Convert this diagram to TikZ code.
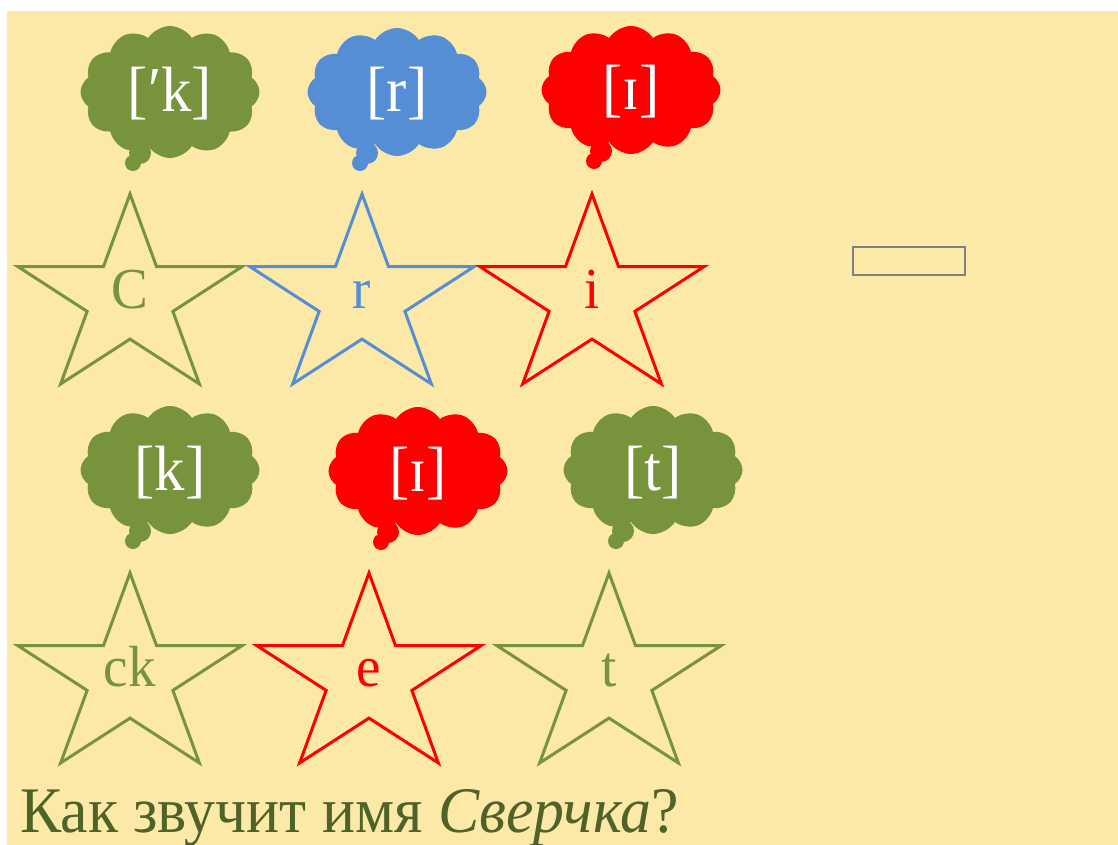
\documentclass[tikz,border=0pt]{standalone}
\usepackage{fontspec}
\setmainfont{Liberation Serif}
\newfontfamily\slidefont[FakeStretch=0.95]{Liberation Serif}
\usepackage{tikz}
\usetikzlibrary{shapes.symbols}
\definecolor{slidebg}{HTML}{FDE9A7}
\definecolor{mossgreen}{HTML}{77933C}
\definecolor{darkmoss}{HTML}{4F6228}
\definecolor{sky}{HTML}{558ED5}
\definecolor{scarlet}{HTML}{FF0000}
\definecolor{framegray}{HTML}{7F7F7F}

\begin{document}
\begin{tikzpicture}[x=1pt, y=-1pt,
    starline/.style={line width=3pt, line join=miter},
    startext/.style={font=\slidefont\fontsize{58}{62}\selectfont, anchor=base, inner sep=0pt},
    thought/.style={cloud, cloud puffs=12, cloud puff arc=115,
        minimum width=179pt, minimum height=128pt, fill=#1, draw=none, text=white,
        font=\slidefont\fontsize{64}{68}\selectfont, inner sep=0pt, text height=40pt, text depth=0pt}]
    \useasboundingbox (0,0) rectangle (1118,845);
    \fill[white] (0,0) rectangle (1118,845);
    \fill[slidebg] (7,11) rectangle (1118,845);
    % stars with letters
    \foreach \cx/\cy/\bl/\col/\txt/\nm in {130/299/308/mossgreen/C/c1, 362/299/308/sky/r/r1, 592/299/308/scarlet/i/i1,
        130/678/686/mossgreen/ck/ck2, 369/678/686/scarlet/e/e2, 609/678/686/mossgreen/t/t2} {
        \begin{scope}[shift={(\cx,\cy)}]
            \draw[starline, \col] (-90:118 and 105)
                \foreach \a/\f in {-54/0.382, -18/1, 18/0.382, 54/1, 90/0.382, 126/1, 162/0.382, 198/1, 234/0.382} {
                    -- (\a:{118*\f} and {105*\f})
                } -- cycle;
        \end{scope}
        \node[startext, text=\col] (\nm) at (\cx,\bl) {\txt};
    }
    % thought clouds with sounds, tail bubbles below left
    \foreach \cx/\cy/\col/\snd/\nm in {170/92/mossgreen/[′k]/kq, 397/92/sky/[r]/rq, 631/90/scarlet/[ɪ]/iq,
        170/470/mossgreen/[k]/ckq, 418/471/scarlet/[ɪ]/eq, 653/470/mossgreen/[t]/tq} {
        \fill[\col] (\cx-30,\cy+61) circle (11pt);
        \fill[\col] (\cx-37,\cy+71) circle (8pt);
        \node[thought=\col] (\nm) at (\cx,\cy) {\snd};
    }
    \node[draw=framegray, line width=2.5pt, minimum width=112pt, minimum height=28pt, inner sep=0pt] (blank) at (909,261) {};
    \node[anchor=base west, inner sep=0pt, text=darkmoss, font=\slidefont\fontsize{65}{70}\selectfont] (question) at (20,832)
        {Как звучит имя \textit{Сверчка}?};
\end{tikzpicture}
\end{document}
